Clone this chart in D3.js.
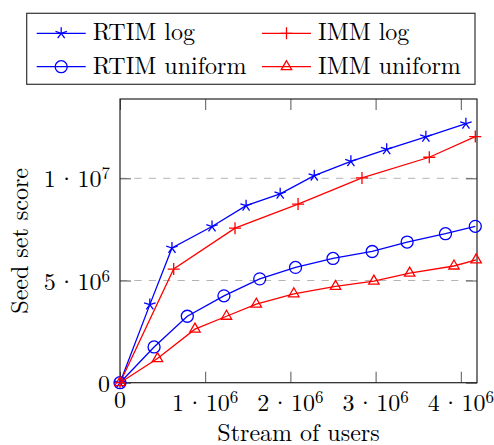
<!DOCTYPE html>
<html>
<head>
<meta charset="utf-8">
<style>
  body { margin: 0; background: #fff; }
  .tick line { stroke: #555; }
  .domain { display: none; }
</style>
</head>
<body>
<script src="https://d3js.org/d3.v7.min.js"></script>
<script>

// values (users, score)
var rtimLogX = [0, 0.35e6, 0.61e6, 1.08e6, 1.48e6, 1.88e6, 2.28e6, 2.71e6, 3.13e6, 3.59e6, 4.06e6];
var rtimLogY = [0, 3.82e6, 6.59e6, 7.64e6, 8.66e6, 9.24e6, 10.13e6, 10.83e6, 11.42e6, 12.03e6, 12.67e6];

var immLogX = [0, 0.63e6, 1.35e6, 2.09e6, 2.84e6, 3.63e6, 4.17e6];
var immLogY = [0, 5.56e6, 7.56e6, 8.74e6, 10.02e6, 11.03e6, 12.04e6];

var rtimUniX = [0, 0.40e6, 0.79e6, 1.22e6, 1.64e6, 2.06e6, 2.50e6, 2.96e6, 3.37e6, 3.82e6, 4.17e6];
var rtimUniY = [0, 1.75e6, 3.25e6, 4.25e6, 5.08e6, 5.64e6, 6.08e6, 6.42e6, 6.88e6, 7.29e6, 7.65e6];

var immUniX = [0, 0.44e6, 0.88e6, 1.25e6, 1.60e6, 2.04e6, 2.53e6, 2.98e6, 3.40e6, 3.92e6, 4.18e6];
var immUniY = [0, 1.18e6, 2.62e6, 3.25e6, 3.84e6, 4.35e6, 4.71e6, 4.97e6, 5.36e6, 5.71e6, 6.01e6];

var seriesNames = ["RTIM log", "IMM log", "RTIM uniform", "IMM uniform"];

var xTicks = [0, 1e6, 2e6, 3e6, 4e6];
var xTickMant = ["0", "1", "2", "3", "4"];
var xTickExp = ["", "6", "6", "6", "6"];

var yTicks = [0, 5e6, 1e7];
var yTickMant = ["0", "5", "1"];
var yTickExp = ["", "6", "7"];

var xLabel = "Stream of users",
    yLabel = "Seed set score";

var serif = "'Latin Modern Roman'";

// layout
var W = 494, H = 445;
var plot = {left: 120, right: 477, top: 99, bottom: 382.7};

var x = d3.scaleLinear().domain([0, 4.19e6]).range([plot.left, plot.right]);
var y = d3.scaleLinear().domain([0, 1.388e7]).range([plot.bottom, plot.top]);

var svg = d3.select("body").append("svg")
    .attr("width", W)
    .attr("height", H);

// dashed grid
svg.append("g").selectAll("line")
    .data(yTicks.filter(function(d) { return d > 0; }))
    .enter().append("line")
    .attr("x1", plot.left).attr("x2", plot.right)
    .attr("y1", function(d) { return y(d); })
    .attr("y2", function(d) { return y(d); })
    .attr("stroke", "#b4b4b4")
    .attr("stroke-width", 1)
    .attr("stroke-dasharray", "7.2,7.2");

// inward ticks on all four sides
var tl = 11;
svg.append("g").attr("transform", "translate(0," + plot.bottom + ")")
    .call(d3.axisBottom(x).tickValues(xTicks).tickSize(-tl).tickFormat(""));
svg.append("g").attr("transform", "translate(0," + plot.top + ")")
    .call(d3.axisTop(x).tickValues(xTicks).tickSize(-tl).tickFormat(""));
svg.append("g").attr("transform", "translate(" + plot.left + ",0)")
    .call(d3.axisLeft(y).tickValues(yTicks).tickSize(-tl).tickFormat(""));
svg.append("g").attr("transform", "translate(" + plot.right + ",0)")
    .call(d3.axisRight(y).tickValues(yTicks).tickSize(-tl).tickFormat(""));

// frame
svg.append("rect")
    .attr("x", plot.left).attr("y", plot.top)
    .attr("width", plot.right - plot.left)
    .attr("height", plot.bottom - plot.top)
    .attr("fill", "none")
    .attr("stroke", "#222")
    .attr("stroke-width", 1.2);

function sciLabel(sel, mant, exp) {
  sel.text(null);
  sel.append("tspan").text(mant);
  if (!exp) return;
  sel.append("tspan").attr("dx", 1.5).text("\u00b7");
  sel.append("tspan").attr("dx", 1.5).text("10");
  sel.append("tspan").style("font-size", "17px").attr("dy", -8).text(exp);
}

// x tick labels
svg.append("g").selectAll("text")
    .data(xTicks)
    .enter().append("text")
    .attr("x", function(d) { return x(d); })
    .attr("y", function(d, i) { return xTickExp[i] ? plot.bottom + 28 : plot.bottom + 25; })
    .attr("text-anchor", "middle")
    .style("font-family", serif)
    .style("font-size", "24px")
    .each(function(d, i) { sciLabel(d3.select(this), xTickMant[i], xTickExp[i]); });

// y tick labels
svg.append("g").selectAll("text")
    .data(yTicks)
    .enter().append("text")
    .attr("x", 110)
    .attr("y", function(d) { return y(d) + 9; })
    .attr("text-anchor", "end")
    .style("font-family", serif)
    .style("font-size", "24px")
    .each(function(d, i) { sciLabel(d3.select(this), yTickMant[i], yTickExp[i]); });

// axis titles
svg.append("text")
    .attr("x", (plot.left + plot.right) / 2)
    .attr("y", 441)
    .attr("text-anchor", "middle")
    .style("font-family", serif)
    .style("font-size", "24px")
    .text(xLabel);

svg.append("text")
    .attr("transform", "translate(28," + ((plot.top + plot.bottom) / 2) + ") rotate(-90)")
    .attr("text-anchor", "middle")
    .style("font-family", serif)
    .style("font-size", "24px")
    .text(yLabel);

// markers
function drawMark(g, type, color) {
  var r = 6;
  if (type === "star") {
    for (var k = 0; k < 5; k++) {
      var a = (90 + k * 72) * Math.PI / 180;
      g.append("line").attr("x1", 0).attr("y1", 0)
        .attr("x2", r * Math.cos(a)).attr("y2", -r * Math.sin(a))
        .attr("stroke", color).attr("stroke-width", 1.3);
    }
  } else if (type === "plus") {
    g.append("path").attr("d", "M" + (-r) + ",0H" + r + "M0," + (-r) + "V" + r)
      .attr("stroke", color).attr("stroke-width", 1.3).attr("fill", "none");
  } else if (type === "circle") {
    g.append("circle").attr("r", r)
      .attr("stroke", color).attr("stroke-width", 1.3).attr("fill", "none");
  } else if (type === "triangle") {
    var pts = [90, 210, 330].map(function(deg) {
      var a = deg * Math.PI / 180;
      return [r * Math.cos(a), -r * Math.sin(a)];
    });
    g.append("path").attr("d", "M" + pts.join("L") + "Z")
      .attr("stroke", color).attr("stroke-width", 1.3).attr("fill", "none");
  }
}

var series = [
  {name: seriesNames[0], xs: rtimLogX, ys: rtimLogY, color: "#0000ff", mark: "star"},
  {name: seriesNames[1], xs: immLogX, ys: immLogY, color: "#ff0000", mark: "plus"},
  {name: seriesNames[2], xs: rtimUniX, ys: rtimUniY, color: "#0000ff", mark: "circle"},
  {name: seriesNames[3], xs: immUniX, ys: immUniY, color: "#ff0000", mark: "triangle"}
];

var line = d3.line()
    .x(function(d) { return x(d[0]); })
    .y(function(d) { return y(d[1]); });

series.forEach(function(s) {
  var pts = s.xs.map(function(v, i) { return [v, s.ys[i]]; });
  var g = svg.append("g");
  g.append("path")
    .attr("d", line(pts))
    .attr("fill", "none")
    .attr("stroke", s.color)
    .attr("stroke-width", 1.3);
  g.selectAll("g.mark")
    .data(pts)
    .enter().append("g")
    .attr("class", "mark")
    .attr("transform", function(d) { return "translate(" + x(d[0]) + "," + y(d[1]) + ")"; })
    .each(function() { drawMark(d3.select(this), s.mark, s.color); });
});

// legend
var legend = svg.append("g");
legend.append("rect")
    .attr("x", 26.7).attr("y", 13.3)
    .attr("width", 448.3).attr("height", 71)
    .attr("fill", "#fff")
    .attr("stroke", "#333")
    .attr("stroke-width", 1.2);

var legCols = [36.7, 262], legRows = [33.3, 66.7];
series.forEach(function(s, i) {
  var cx = legCols[i % 2], cy = legRows[Math.floor(i / 2)];
  var g = legend.append("g");
  g.append("line")
    .attr("x1", cx).attr("x2", cx + 49)
    .attr("y1", cy).attr("y2", cy)
    .attr("stroke", s.color).attr("stroke-width", 1.3);
  drawMark(g.append("g").attr("transform", "translate(" + (cx + 24.5) + "," + cy + ")"), s.mark, s.color);
  g.append("text")
    .attr("x", cx + 56)
    .attr("y", cy + 7)
    .style("font-family", serif)
    .style("font-size", "24px")
    .text(s.name);
});

</script>
</body>
</html>
